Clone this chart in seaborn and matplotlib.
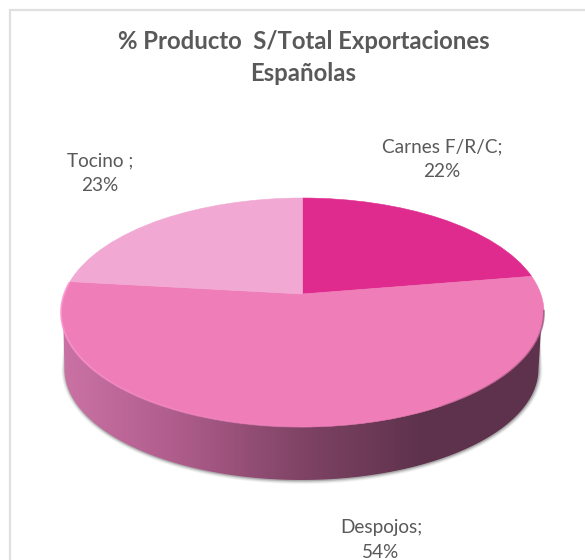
import numpy as np
import seaborn as sns
from matplotlib import pyplot as plt
from matplotlib.collections import LineCollection
from matplotlib.patches import Polygon
from matplotlib.transforms import Transform

categories = ["Carnes F/R/C", "Despojos", "Tocino "]
values = [22.4, 54.4, 23.2]
slice_colors = ["#e02b8e", "#ee7db8", "#f1a8d2"]
title = "% Producto  S/Total Exportaciones\nEspañolas"
label_pos = [(442, 159), (381, 540), (100, 173.5)]

sns.set_theme(style="white")
plt.rcParams['font.family'] = ['Lato', 'DejaVu Sans']

TEXT = "#595959"


class TiltedDisc(Transform):
    """maps the unit circle of ax.pie onto the tilted disc, in pixels"""
    input_dims = 2
    output_dims = 2

    def transform_non_affine(self, xy):
        xy = np.asarray(xy)
        w = 1 + 0.1616 * xy[:, 1]
        return np.column_stack((302.5 + 238.3 * xy[:, 0] / w, (294 - 64 * xy[:, 1]) / w))


fig, ax = plt.subplots(figsize=(5.85, 5.6), dpi=100)
fig.subplots_adjust(0, 0, 1, 1)

wedges, _ = ax.pie(values, colors=slice_colors, startangle=90, counterclock=False, frame=False,
                   wedgeprops={"linewidth": 0})
ax.set_aspect("auto")
ax.set_xlim(0, 585)
ax.set_ylim(560, 0)
ax.axis("off")

disc = TiltedDisc()
for wedge, col in zip(wedges, slice_colors):
    wedge.set_transform(disc + ax.transData)
    wedge.set_zorder(5)
    wedge.set_edgecolor(col)
    wedge.set_linewidth(0.4)

# body of the disc: lower half of the base ellipse joined to the widest points of the top
t = np.linspace(0, np.pi, 200)
base_x = 301.5 + 237 * np.cos(t)
base_y = 369 + 111 * np.sin(t)
outline = np.column_stack((np.r_[542, base_x, 63], np.r_[312, base_y, 312]))

# soft shadow under the body
for grow, alpha in [(3.5, 0.05), (2.5, 0.07), (1.5, 0.10), (0.7, 0.14)]:
    shadow_x = 302 + (237 + grow) * np.cos(t)
    shadow_y = 369.5 + (111 + grow) * np.sin(t)
    ax.add_patch(Polygon(np.column_stack((np.r_[540, shadow_x, 65], np.r_[325, shadow_y, 325])),
                         closed=True, fc="black", ec="none", alpha=alpha, zorder=1))

side_cmap = sns.blend_palette(["#cb72a5", "#ad5c8a", "#7f4365", "#5e324c", "#5e324c"], as_cmap=True)
side = ax.imshow(np.linspace(0, 1, 500).reshape(1, -1), cmap=side_cmap, aspect="auto",
                 extent=(61, 544, 560, 0), zorder=2)
ax.set_xlim(0, 585)
ax.set_ylim(560, 0)
side_clip = Polygon(outline, closed=True, transform=ax.transData, fc="none", ec="none")
ax.add_patch(side_clip)
side.set_clip_path(side_clip)


def rim(theta_from, theta_to, color, alpha_from, alpha_to, width):
    th = np.radians(np.linspace(theta_from, theta_to, 120))
    pts = disc.transform_non_affine(np.column_stack((np.sin(th), np.cos(th))))
    segs = np.stack((pts[:-1], pts[1:]), axis=1)
    rgba = np.tile(plt.matplotlib.colors.to_rgba(color), (len(segs), 1))
    rgba[:, 3] = np.linspace(alpha_from, alpha_to, len(segs))
    ax.add_collection(LineCollection(segs, colors=rgba, linewidths=width, zorder=6))


# light bevel on the left, dark one on the right
rim(276, 178, "#ff9ad2", 0.9, 0.1, 1.4)
rim(98, 150, "#5e324c", 0.5, 0.15, 1.4)

ax.text(303.5, 57.5, title, ha="center", va="center", fontsize=17.2, fontweight="bold",
        color=TEXT, linespacing=1.5, zorder=10)
for name, val, (lx, ly) in zip(categories, values, label_pos):
    ax.text(lx, ly, f"{name};\n{round(val)}%", ha="center", va="center", fontsize=13.7,
            color=TEXT, linespacing=1.55, zorder=10)

# chart frame, cropped on the right and bottom
ax.plot([10, 10, 585], [560, 10, 10], color="#e0e0e0", lw=1.6, zorder=0, solid_joinstyle="miter")

plt.savefig("out.png", dpi=100)
